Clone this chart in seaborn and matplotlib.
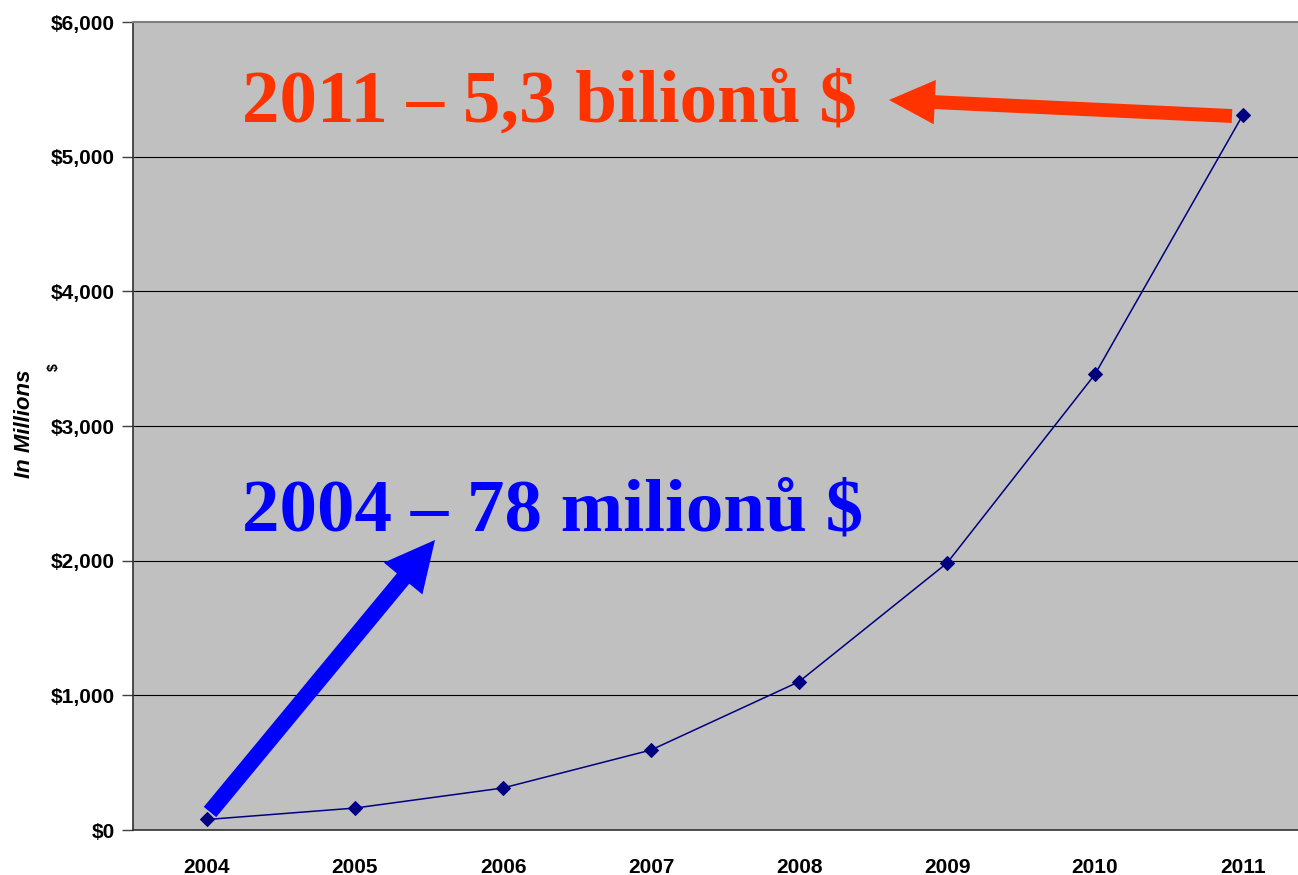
import matplotlib
matplotlib.use("Agg")
import matplotlib.pyplot as plt
from matplotlib.patches import FancyArrowPatch, ArrowStyle
from matplotlib.ticker import FuncFormatter, MultipleLocator
import seaborn as sns
import pandas as pd

# Annual revenue, in millions of dollars
years = ["2004", "2005", "2006", "2007", "2008", "2009", "2010", "2011"]
revenue = [78, 163, 312, 594, 1101, 1982, 3384, 5312]

label_2011 = "2011 – 5,3 bilionů $"
label_2004 = "2004 – 78 milionů $"

df = pd.DataFrame({"year": years, "revenue": revenue})

sns.set_theme(style="white")
plt.rcParams["font.family"] = ["Liberation Sans", "DejaVu Sans"]
plt.rcParams["text.color"] = "black"
plt.rcParams["xtick.color"] = "black"
plt.rcParams["ytick.color"] = "black"

W, H = 1298, 875
fig = plt.figure(figsize=(W / 100, H / 100), dpi=100)
ax = fig.add_axes([133 / W, 1 - 830 / H, 1184 / W, 808 / H])
ax.set_facecolor("#C0C0C0")

sns.lineplot(data=df, x="year", y="revenue", ax=ax, sort=False,
             color="#000080", linewidth=1.1, marker="D", markersize=7,
             markeredgecolor="#000080", markerfacecolor="#000080", zorder=4)

ax.set_xlim(-0.5, 7.5)
ax.set_ylim(0, 6000)
ax.yaxis.set_major_locator(MultipleLocator(1000))
ax.yaxis.set_major_formatter(FuncFormatter(lambda v, p: f"${v:,.0f}"))

# horizontal gridlines
for v in range(1000, 6000, 1000):
    ax.axhline(v, color="#000000", linewidth=0.8, zorder=1)

# category ticks sit between the years
ax.set_xticks(range(len(years)))
ax.set_xticklabels(years)
ax.set_xticks([i + 0.5 for i in range(len(years))], minor=True)
ax.tick_params(axis="x", which="major", length=0, pad=20, labelsize=15,
               labelcolor="black")
ax.tick_params(axis="x", which="minor", length=7, width=1, color="#404040",
               direction="out")
ax.tick_params(axis="y", length=8, width=1, color="#404040", direction="out",
               pad=5, labelsize=15, left=True, labelcolor="black")
for lab in ax.get_xticklabels() + ax.get_yticklabels():
    lab.set_fontweight("bold")

ax.set_xlabel("")
ax.set_ylabel("")
for side in ["left", "bottom"]:
    ax.spines[side].set_color("#303030")
    ax.spines[side].set_linewidth(1.2)
ax.spines["top"].set_color("#808080")
ax.spines["top"].set_linewidth(1.5)
ax.spines["right"].set_visible(False)

fig.text(25 / W, 1 - 424 / H, "In Millions", rotation=90, ha="center",
         va="center", fontsize=16, fontweight="bold", fontstyle="italic",
         color="black")
fig.text(54 / W, 1 - 367 / H, "$", rotation=90, ha="center", va="center",
         fontsize=10, fontweight="bold", color="black")

# headline annotations
fig.text(242 / W, 1 - 122 / H, label_2011, ha="left", va="baseline",
         fontsize=54, fontweight="bold", color="#FF3300",
         family=["Liberation Serif", "DejaVu Serif"])
fig.text(242 / W, 1 - 531 / H, label_2004, ha="left", va="baseline",
         fontsize=54, fontweight="bold", color="#0000FF",
         family=["Liberation Serif", "DejaVu Serif"])


def px_to_data(px, py):
    x = (px - 207) / 148.0
    y = (830 - py) / 808.0 * 6000
    return x, y


red_arrow = FancyArrowPatch(
    px_to_data(1232, 116), px_to_data(889, 100),
    arrowstyle=ArrowStyle.Simple(head_length=1.65, head_width=1.6,
                                 tail_width=0.5),
    mutation_scale=20, color="#FF3300", linewidth=0, shrinkA=0, shrinkB=0,
    zorder=5)
blue_arrow = FancyArrowPatch(
    px_to_data(210, 812), px_to_data(435, 540),
    arrowstyle=ArrowStyle.Simple(head_length=1.8, head_width=1.8,
                                 tail_width=0.58),
    mutation_scale=20, color="#0000FF", linewidth=0, shrinkA=0, shrinkB=0,
    zorder=5)
ax.add_patch(red_arrow)
ax.add_patch(blue_arrow)

fig.savefig("out.png", dpi=100, facecolor="white")
